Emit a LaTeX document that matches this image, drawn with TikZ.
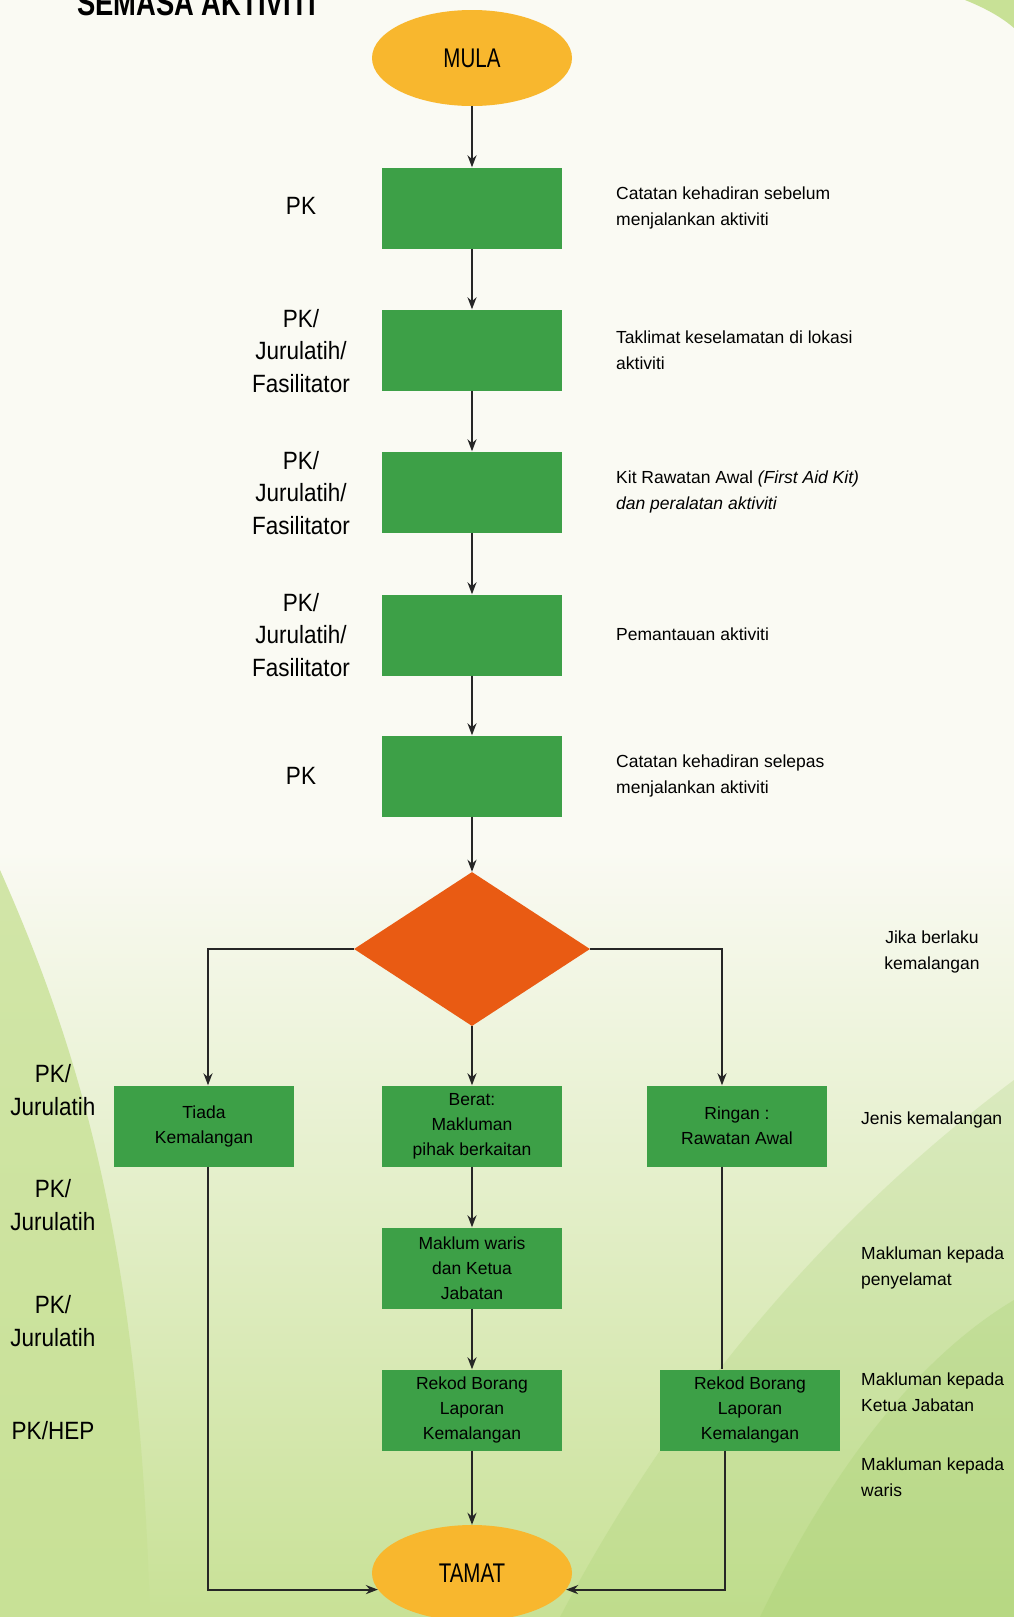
\documentclass[tikz,border=0pt]{standalone}
\usepackage{fontspec}
\setmainfont{Liberation Sans}
\newfontfamily\condfont[FakeStretch=0.76]{Liberation Sans}
\newfontfamily\labfont[FakeStretch=0.9]{Liberation Sans}
\usetikzlibrary{shapes.geometric,arrows.meta,positioning}
\definecolor{boxgreen}{RGB}{61,160,71}
\definecolor{dorange}{RGB}{233,91,19}
\definecolor{ovyellow}{RGB}{248,183,46}
\definecolor{bgcream}{RGB}{250,250,243}
\definecolor{leafA}{RGB}{200,225,150}
\definecolor{leafB}{RGB}{160,205,105}
\begin{document}
\begin{tikzpicture}[x=1pt,y=-1pt,
  box/.style={rectangle, fill=boxgreen, minimum width=180pt, minimum height=81pt,
    align=center, inner sep=2pt, font=\fontsize{17.5}{25}\selectfont},
  term/.style={ellipse, fill=ovyellow, minimum width=200pt, minimum height=96pt,
    font=\condfont\fontsize{27}{30}\selectfont},
  who/.style={align=center, font=\labfont\fontsize{25}{32.5}\selectfont},
  note/.style={align=left, anchor=west, inner sep=0pt, font=\fontsize{17.5}{26}\selectfont},
  link/.style={line width=2pt, draw=black!85},
  arr/.style={link, -{Stealth[length=12pt,width=9pt]}}]
  % background
  \useasboundingbox (0,0) rectangle (1014,1617);
  \fill[bgcream] (0,0) rectangle (1014,1617);
  \shade[top color=bgcream, bottom color=leafA] (0,850) rectangle (1014,1617);
  \fill[leafA, opacity=0.8] (0,870) .. controls (80,1050) and (140,1250) .. (150,1617) -- (0,1617) -- cycle;
  \fill[leafB, opacity=0.22] (560,1617) .. controls (700,1350) and (880,1180) .. (1014,1080) -- (1014,1617) -- cycle;
  \fill[leafB, opacity=0.25] (760,1617) .. controls (840,1450) and (930,1350) .. (1014,1300) -- (1014,1617) -- cycle;
  \fill[leafA] (965,0) .. controls (990,10) and (1005,20) .. (1014,28) -- (1014,0) -- cycle;
  \node[anchor=base west, inner sep=0pt, font=\condfont\bfseries\fontsize{36}{40}\selectfont] (title) at (77,15) {SEMASA AKTIVITI};

  % main column
  \node[term] (mula) at (472,58) {MULA};
  \node[box] (b1) at (472,208) {};
  \node[box] (b2) at (472,350) {};
  \node[box] (b3) at (472,492) {};
  \node[box] (b4) at (472,635) {};
  \node[box] (b5) at (472,776) {};
  \node[diamond, fill=dorange, minimum width=236pt, minimum height=154pt, inner sep=0pt] (d) at (472,949) {};
  \node[box] (t) at (204,1126) {Tiada\\Kemalangan};
  \node[box] (c1) at (472,1126) {Berat:\\Makluman\\pihak berkaitan};
  \node[box] (r1) at (737,1126) {Ringan :\\Rawatan Awal};
  \node[box] (c2) at (472,1268) {Maklum waris\\dan Ketua\\Jabatan};
  \node[box] (c3) at (472,1410) {Rekod Borang\\Laporan\\Kemalangan};
  \node[box] (r2) at (750,1410) {Rekod Borang\\Laporan\\Kemalangan};
  \node[term] (tamat) at (472,1573) {TAMAT};

  \draw[arr] (mula) -- (b1);
  \draw[arr] (b1) -- (b2);
  \draw[arr] (b2) -- (b3);
  \draw[arr] (b3) -- (b4);
  \draw[arr] (b4) -- (b5);
  \draw[arr] (b5.south) -- (d.north);
  \draw[arr] (d.west) -| ([xshift=4pt]t.north);
  \draw[arr] (d.south) -- (c1.north);
  \draw[arr] (d.east) -| ([xshift=-15pt]r1.north);
  \draw[arr] (c1) -- (c2);
  \draw[arr] (c2) -- (c3);
  \draw[arr] (c3.south) -- (tamat.north);
  \draw[link] ([xshift=-15pt]r1.south) -- ([xshift=-15pt]r1.south |- r2.north);
  \draw[arr] ([xshift=4pt]t.south) |- (tamat.190);
  \draw[arr] ([xshift=-25pt]r2.south) |- (tamat.-10);

  % who is responsible
  \node[who] (w1) at (301,206) {PK};
  \node[who] (w2) at (301,351) {PK/\\Jurulatih/\\Fasilitator};
  \node[who] (w3) at (301,493) {PK/\\Jurulatih/\\Fasilitator};
  \node[who] (w4) at (301,635) {PK/\\Jurulatih/\\Fasilitator};
  \node[who] (w5) at (301,776) {PK};
  \node[who] (w6) at (53,1090) {PK/\\Jurulatih};
  \node[who] (w7) at (53,1205) {PK/\\Jurulatih};
  \node[who] (w8) at (53,1321) {PK/\\Jurulatih};
  \node[who] (w9) at (53,1431) {PK/HEP};

  % notes
  \node[note] (n1) at (616,208) {Catatan kehadiran sebelum\\menjalankan aktiviti};
  \node[note] (n2) at (616,350) {Taklimat keselamatan di lokasi\\aktiviti};
  \node[note] (n3) at (616,492) {Kit Rawatan Awal \textit{(First Aid Kit)}\\\textit{dan peralatan aktiviti}};
  \node[note] (n4) at (616,634) {Pemantauan aktiviti};
  \node[note] (n5) at (616,776) {Catatan kehadiran selepas\\menjalankan aktiviti};
  \node[note, anchor=center, align=center] (n6) at (932,952) {Jika berlaku\\kemalangan};
  \node[note] (n7) at (861,1120) {Jenis kemalangan};
  \node[note] (n8) at (861,1268) {Makluman kepada\\penyelamat};
  \node[note] (n9) at (861,1392) {Makluman kepada\\Ketua Jabatan};
  \node[note] (n10) at (861,1477) {Makluman kepada\\waris};
\end{tikzpicture}
\end{document}
